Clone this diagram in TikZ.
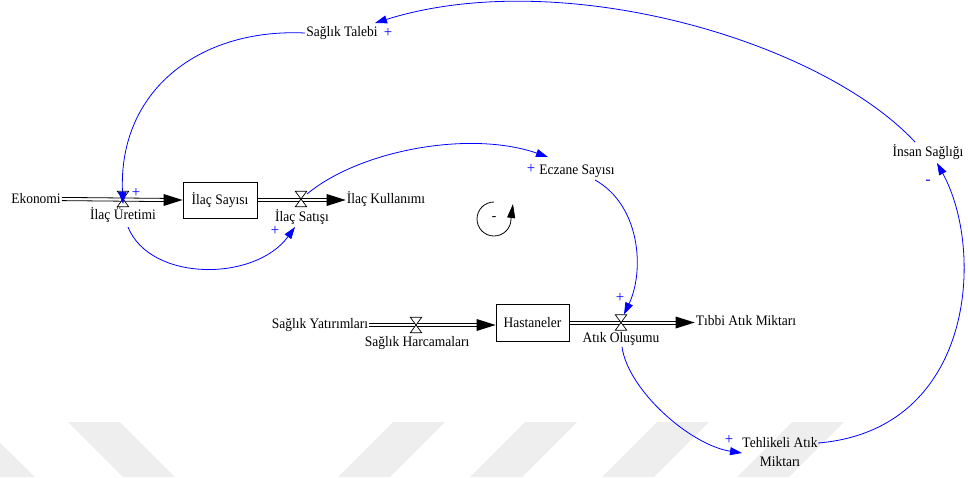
\documentclass[tikz,border=0pt]{standalone}
\usepackage{fontspec}
\setmainfont[FakeStretch=0.93]{Liberation Serif}
\usetikzlibrary{arrows.meta,calc}
\definecolor{wm}{RGB}{238,238,238}
\definecolor{linkblue}{RGB}{0,0,255}
\tikzset{
  lbl/.style={inner sep=1pt},
  stockbox/.style={draw, line width=0.8pt, minimum width=74pt, minimum height=36pt, inner sep=0pt},
  valvenode/.style={minimum width=11pt, minimum height=15pt, inner sep=0pt},
  valveshape/.style={draw, fill=white, line width=0.7pt},
  pipeline/.style={line width=0.8pt},
  link/.style={draw=linkblue, line width=0.8pt, -{Triangle[length=12pt,width=8pt]}},
  pol/.style={text=linkblue, font=\fontsize{16}{17}\selectfont, inner sep=0pt},
  wmshape/.style={fill=wm}
}
\newcommand{\flowpipe}[2]{%
  \draw[pipeline] ($(#1)+(0,1.6)$) -- ($(#2)+(-17,1.6)$);
  \draw[pipeline] ($(#1)+(0,-1.6)$) -- ($(#2)+(-17,-1.6)$);
  \fill ($(#2)+(-19,6)$) -- (#2) -- ($(#2)+(-19,-6)$) -- cycle;}
\newcommand{\valvedraw}[1]{%
  \draw[valveshape] (#1.north west) -- (#1.north east) -- (#1.south west) -- (#1.south east) -- cycle;}
\begin{document}
\begin{tikzpicture}[x=1pt,y=1pt,font=\fontsize{14.5}{16}\selectfont]
\useasboundingbox (0,0) rectangle (968,-477);
% watermark
\begin{scope}
\clip (0,0) rectangle (968,-477);
\fill[wmshape] (-73,-422) -- (-21,-422) -- (35,-477) -- (-17,-477) -- cycle;
\fill[wmshape] (68,-422) -- (120,-422) -- (175,-477) -- (123,-477) -- cycle;
\fill[wmshape] (393,-422) -- (445,-422) -- (390,-477) -- (338,-477) -- cycle;
\fill[wmshape] (525,-422) -- (577,-422) -- (522,-477) -- (470,-477) -- cycle;
\fill[wmshape] (657,-422) -- (709,-422) -- (654,-477) -- (602,-477) -- cycle;
\fill[wmshape] (792,-422) -- (844,-422) -- (789,-477) -- (737,-477) -- cycle;
\end{scope}

% nodes
\node[lbl] (eko) at (36,-199) {Ekonomi};
\node[stockbox] (ilacsay) at (220,-200) {İlaç Sayısı};
\node[valvenode] (v1) at (123,-199) {};
\node[lbl] (lv1) at (123,-215) {İlaç Üretimi};
\node[valvenode] (v2) at (301,-199) {};
\node[lbl] (lv2) at (302,-217) {İlaç Satışı};
\node[lbl] (kull) at (386,-199) {İlaç Kullanımı};
\node[lbl] (ecz) at (577,-171) {Eczane Sayısı};
\node[lbl] (talep) at (342,-33) {Sağlık Talebi};
\node[lbl] (insan) at (928,-152) {İnsan Sağlığı};
\node[lbl] (yat) at (320,-325) {Sağlık Yatırımları};
\node[valvenode] (v3) at (416,-325) {};
\node[lbl] (lv3) at (417,-343) {Sağlık Harcamaları};
\node[stockbox, minimum width=73pt, minimum height=37pt] (hast) at (532.5,-322.5) {Hastaneler};
\node[valvenode] (v4) at (621,-322.5) {};
\node[lbl] (lv4) at (621,-339) {Atık Oluşumu};
\node[lbl] (tibbi) at (746,-321) {Tıbbi Atık Miktarı};
\node[lbl, align=center, font=\fontsize{14.5}{18.5}\selectfont] (tehl) at (780,-452) {Tehlikeli Atık\\Miktarı};

% pipe end points
\coordinate (e1) at (ilacsay.west);
\coordinate (s2) at (ilacsay.east);
\coordinate (e2) at (kull.west |- ilacsay.east);
\coordinate (s3) at (yat.east);
\coordinate (e3) at (hast.west |- yat.east);
\coordinate (s4) at (hast.east);
\coordinate (e4) at (tibbi.west |- hast.east);

% flows
\flowpipe{eko.east}{e1}
\flowpipe{s2}{e2}
\flowpipe{s3}{e3}
\flowpipe{s4}{e4}
\valvedraw{v1}
\valvedraw{v2}
\valvedraw{v3}
\valvedraw{v4}

% causal links
\draw[link] (talep.west) .. controls (200,-28) and (118,-90) .. ($(v1)+(0,-5)$);
\draw[link] ($(lv1)+(5,-12)$) .. controls (150,-282) and (255,-282) .. ($(lv2)+(-7,-10)$);
\draw[link] ($(v2)+(6,5)$) .. controls (360,-150) and (470,-130) .. ($(ecz)+(-29,14)$);
\draw[link] ($(ecz)+(18,-9)$) .. controls (640,-205) and (645,-270) .. ($(v4)+(3,8)$);
\draw[link] ($(lv4)+(1,-8)$) .. controls (628,-390) and (690,-445) .. ($(tehl)+(-38,-1)$);
\draw[link] ($(tehl)+(38,9)$) .. controls (975,-430) and (985,-250) .. ($(insan)+(9,-11)$);
\draw[link] ($(insan)+(-13,10)$) .. controls (820,-40) and (560,35) .. ($(talep)+(33,10)$);

% polarities
\node[pol] (p1) at (136,-193) {+};
\node[pol] (p2) at (275,-231) {+};
\node[pol] (p3) at (531,-169) {+};
\node[pol] (p4) at (620,-298) {+};
\node[pol] (p5) at (729,-440) {+};
\node[pol] (p6) at (388,-33) {+};
\node[pol] (p7) at (928,-182) {-};

% loop symbol
\coordinate (loopc) at (494,-219);
\draw[line width=0.8pt, -{Triangle[length=14pt,width=8pt]}] ($(loopc)+(0,17)$) arc[start angle=90, end angle=360, radius=17pt] -- ($(loopc)+(19,15)$);
\node[lbl] (loopsign) at (loopc) {-};
\end{tikzpicture}
\end{document}
